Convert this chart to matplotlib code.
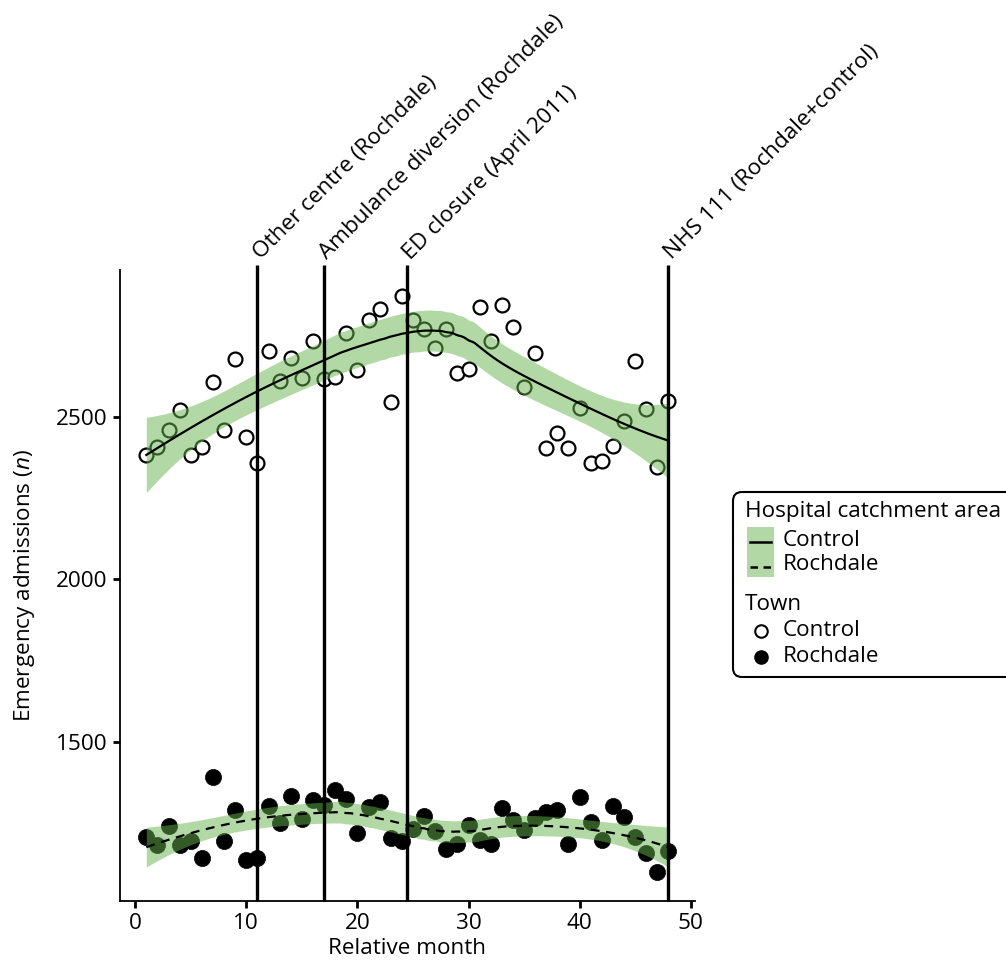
import numpy as np
import matplotlib
matplotlib.use("Agg")
import matplotlib.pyplot as plt
from matplotlib.patches import FancyBboxPatch, Rectangle
from matplotlib.lines import Line2D

# ---------------- data ----------------
months = list(range(1, 49))
control_town = [2383, 2408, 2460, 2521, 2383, 2408, 2607, 2460, 2678, 2439,
                2359, 2702, 2610, 2681, 2620, 2733, 2617, 2623, 2758, 2644,
                2798, 2831, 2546, 2871, 2798, 2770, 2712, 2770, 2635, 2647,
                2837, 2733, 2843, 2776, 2592, 2696, 2405, 2451, 2405, 2528,
                2359, 2365, 2411, 2488, 2672, 2525, 2347, 2549]
rochdale_town = [1209, 1183, 1243, 1184, 1196, 1145, 1393, 1195, 1292, 1137,
                 1144, 1303, 1252, 1335, 1264, 1323, 1308, 1352, 1325, 1221,
                 1301, 1315, 1204, 1195, 1233, 1274, 1226, 1170, 1188, 1244,
                 1200, 1187, 1298, 1260, 1231, 1267, 1284, 1292, 1188, 1331,
                 1255, 1200, 1303, 1270, 1209, 1160, 1101, 1164]
event_months = [11, 17, 24.5, 48]
event_labels = ["Other centre (Rochdale)", "Ambulance diversion (Rochdale)",
                "ED closure (April 2011)", "NHS 111 (Rochdale+control)"]
x_ticks = [0, 10, 20, 30, 40, 50]
y_ticks = [1500, 2000, 2500]

FONT = "Open Sans"
plt.rcParams["font.family"] = [FONT, "DejaVu Sans"]
plt.rcParams["mathtext.fontset"] = "custom"
plt.rcParams["mathtext.rm"] = FONT
plt.rcParams["mathtext.it"] = FONT + ":italic"
FS = 16.2

BAND = "#66b54d"


def loess(x, y, xnew, span=0.75):
    """Local quadratic regression (as R's loess / ggplot geom_smooth)."""
    x = np.asarray(x, float)
    y = np.asarray(y, float)
    n = len(x)
    q = int(np.floor(n * span))

    def row(x0):
        d = np.abs(x - x0)
        h = np.sort(d)[q - 1]
        w = np.clip(1 - (d / h) ** 3, 0, None) ** 3
        X = np.vstack([np.ones(n), x - x0, (x - x0) ** 2]).T
        XtW = X.T * w
        return np.linalg.solve(XtW @ X, XtW)[0]

    L = np.array([row(v) for v in x])
    Ln = np.array([row(v) for v in xnew])
    fit = Ln @ y
    res = y - L @ y
    IL = np.eye(n) - L
    M = IL.T @ IL
    d1 = np.trace(M)
    d2 = np.trace(M @ M)
    s = np.sqrt(np.sum(res ** 2) / d1)
    se = s * np.sqrt(np.sum(Ln ** 2, axis=1))
    df = d1 ** 2 / d2
    z = 1.959964
    t = z + (z ** 3 + z) / (4 * df) + (5 * z ** 5 + 16 * z ** 3 + 3 * z) / (96 * df ** 2)
    return fit, fit - t * se, fit + t * se


W, H = 1006, 965
fig = plt.figure(figsize=(W / 100, H / 100), dpi=100)
ax = fig.add_axes([120.2 / W, 1 - 900.5 / H, 574.4 / W, 630.5 / H])

# points
ax.scatter(months, control_town, s=100, facecolor="white", edgecolor="black",
           linewidth=1.6, zorder=2)
ax.scatter(months, rochdale_town, s=135, facecolor="black", edgecolor="black",
           linewidth=0.5, zorder=2)

xs = np.linspace(min(months), max(months), 200)
for yv, ls in [(control_town, "-"), (rochdale_town, (0, (4, 3)))]:
    f, lo, hi = loess(months, yv, xs)
    ax.fill_between(xs, lo, hi, color=BAND, alpha=0.5, lw=0, zorder=3)
    ax.plot(xs, f, color="black", lw=1.6, ls=ls, zorder=4)

ax.set_xlim(-1.35, 50.35)
ax.set_ylim(1013, 2951)
top_y = 2951 + 5 / 0.3253
for m, lab in zip(event_months, event_labels):
    ax.plot([m, m], [1013, top_y], color="black", lw=2.4, zorder=5,
            clip_on=False, solid_capstyle="butt")
    ax.text(m + 0.6, top_y + 4, lab, rotation=45, rotation_mode="anchor",
            ha="left", va="bottom", fontsize=FS, zorder=6)

for s in ["top", "right"]:
    ax.spines[s].set_visible(False)
for s in ["left", "bottom"]:
    ax.spines[s].set_linewidth(1.3)
ax.set_xticks(x_ticks)
ax.set_yticks(y_ticks)
ax.tick_params(axis="both", length=5, width=2, labelsize=FS, color="black",
               labelcolor="black", pad=4)
ax.set_xlabel("Relative month", fontsize=FS, labelpad=3)
ax.set_ylabel("Emergency admissions ($n$)", fontsize=FS, labelpad=14)

# ---------------- legend (drawn in figure pixel coordinates) ----------------
lg = fig.add_axes([0, 0, 1, 1])
lg.axis("off")
lg.set_xlim(0, W)
lg.set_ylim(H, 0)
lg.add_patch(FancyBboxPatch((733, 492), 320, 185,
                            boxstyle="round,pad=0,rounding_size=9",
                            fc="white", ec="black", lw=1.5))
lg.text(745, 512, "Hospital catchment area", fontsize=FS, va="center", ha="left")
area_labels = ["Control", "Rochdale"]
area_styles = ["-", (0, (3, 2.2))]
key_top = [527, 553]
key_h = [26, 24]
for lab, st, kt, kh in zip(area_labels, area_styles, key_top, key_h):
    lg.add_patch(Rectangle((747, kt), 27, kh, fc=BAND, alpha=0.5, lw=0))
    yc = kt + kh / 2
    lg.add_line(Line2D([750, 771], [yc + 2, yc + 2], color="black", lw=1.8, ls=st))
    lg.text(783, yc, lab, fontsize=FS, va="center", ha="left")

lg.text(745, 604, "Town", fontsize=FS, va="center", ha="left")
town_labels = ["Control", "Rochdale"]
town_fc = ["white", "black"]
for lab, fc, yc in zip(town_labels, town_fc, [631, 657]):
    lg.plot([761], [yc], marker="o", ms=9, mfc=fc, mec="black", mew=1.5)
    lg.text(783, yc, lab, fontsize=FS, va="center", ha="left")

fig.savefig("out.png", dpi=100)
